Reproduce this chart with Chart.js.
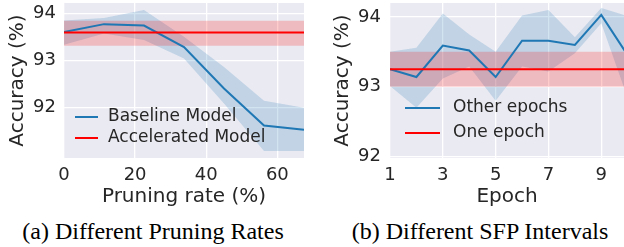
<!DOCTYPE html>
<html><head><meta charset="utf-8">
<script src="https://cdn.jsdelivr.net/npm/chart.js@4"></script>
<style>
html,body{margin:0;padding:0;background:#fff;}
#wrap{position:relative;width:624px;height:247px;overflow:hidden;background:#fff;}
.cv{position:absolute;top:0;}
.cap{position:absolute;font-family:'Liberation Serif','Times New Roman',serif;font-size:24px;line-height:28px;color:#000;white-space:nowrap;transform:translateX(-50%);top:217px;}
</style></head>
<body><div id="wrap">
<div class="cv" style="left:0;width:310px;height:215px;"><canvas id="c1"></canvas></div>
<div class="cv" style="left:310px;width:314px;height:215px;"><canvas id="c2"></canvas></div>
<div class="cap" style="left:153px;">(a) Different Pruning Rates</div>
<div class="cap" style="left:480px;">(b) Different SFP Intervals</div>
</div>
<script>
// ---- data: (a) pruning rates ----
const pruneRates = [0, 11.25, 22.5, 33.75, 45, 56.25, 67.5];
const baselineMean = [93.60, 93.77, 93.74, 93.28, 92.40, 91.61, 91.52];
const baselineUpper = [93.85, 93.90, 94.07, 93.50, 92.86, 92.14, 91.99];
const baselineLower = [93.33, 93.57, 93.43, 93.04, 92.08, 91.07, 91.07];
const accelMean = 93.59, accelUpper = 93.84, accelLower = 93.31;
const pruneTicks = [0, 20, 40, 60];
const accTicksA = [92, 93, 94];
// ---- data: (b) SFP intervals ----
const epochs = [1, 2, 3, 4, 5, 6, 7, 8, 9, 10];
const otherMean = [93.25, 93.14, 93.59, 93.52, 93.14, 93.66, 93.66, 93.60, 94.03, 93.45];
const otherUpper = [93.50, 93.56, 94.05, 93.75, 93.50, 94.02, 94.10, 93.71, 94.13, 94.01];
const otherLower = [93.01, 92.70, 93.12, 93.29, 92.80, 93.29, 93.22, 93.48, 93.91, 92.84];
const oneMean = 93.25, oneUpper = 93.50, oneLower = 93.00;
const epochTicks = [1, 3, 5, 7, 9];
const accTicksB = [92, 93, 94];

const BLUE = '#1f77b4', RED = '#ff0000';
const BLUE_BAND = 'rgba(31,119,180,0.2)', RED_BAND = 'rgba(255,0,0,0.2)';
const TXT = '#262626';
const FONT = "'DejaVu Sans', sans-serif";

function pts(xs, ys){ return xs.map((x,i)=>({x:x, y:ys[i]})); }
function flat(xs, v){ return [{x:xs[0], y:v},{x:xs[xs.length-1], y:v}]; }

const bgPlugin = {
  id:'bg',
  beforeDraw(chart){
    const {ctx, chartArea:a} = chart;
    ctx.save(); ctx.fillStyle='#EAEAF2';
    ctx.fillRect(a.left, a.top, a.right-a.left, a.bottom-a.top);
    ctx.restore();
  }
};
const legendPlugin = {
  id:'inlegend',
  afterDraw(chart, args, opts){
    const {ctx} = chart;
    const items = chart.data.datasets.filter(d=>d.legend);
    ctx.save();
    ctx.font = opts.fontSize + "px " + FONT;
    ctx.textBaseline='middle';
    items.forEach((d,i)=>{
      const y = opts.y + i*opts.gap;
      ctx.strokeStyle = d.borderColor; ctx.lineWidth = 2;
      ctx.beginPath(); ctx.moveTo(opts.x0, y); ctx.lineTo(opts.x1, y); ctx.stroke();
      ctx.fillStyle = TXT;
      ctx.fillText(d.label, opts.tx, y);
    });
    ctx.restore();
  }
};
function zeroPad(s){ s.paddingTop = 0; s.paddingBottom = 0; s.paddingLeft = 0; s.paddingRight = 0; }

function makeChart(id, cfg){
  const ds = [
    {label:'band1', data:pts(cfg.xs, cfg.upper), borderWidth:0, pointRadius:0, fill:1, backgroundColor:BLUE_BAND, order:6},
    {label:'band1low', data:pts(cfg.xs, cfg.lower), borderWidth:0, pointRadius:0, fill:false, order:5},
    {label:'band2', data:flat(cfg.xs, cfg.rUpper), borderWidth:0, pointRadius:0, fill:3, backgroundColor:RED_BAND, order:4},
    {label:'band2low', data:flat(cfg.xs, cfg.rLower), borderWidth:0, pointRadius:0, fill:false, order:3},
    {label:cfg.names[0], legend:true, data:pts(cfg.xs, cfg.mean), borderColor:BLUE, borderWidth:2, pointRadius:0, fill:false, order:2},
    {label:cfg.names[1], legend:true, data:flat(cfg.xs, cfg.rMean), borderColor:RED, borderWidth:2, pointRadius:0, fill:false, order:1},
  ];
  return new Chart(document.getElementById(id), {
    type:'line',
    data:{datasets:ds},
    plugins:[bgPlugin, legendPlugin],
    options:{
      responsive:true, maintainAspectRatio:false, animation:false,
      devicePixelRatio:1,
      layout:{padding:{top:3, right:cfg.padRight, left:0, bottom:0}},
      elements:{line:{tension:0}},
      plugins:{legend:{display:false}, tooltip:{enabled:false},
        filler:{propagate:false},
        inlegend:cfg.legend},
      scales:{
        x:{type:'linear', min:cfg.xmin, max:cfg.xmax,
          afterBuildTicks(s){ s.ticks = cfg.xticks.map(v=>({value:v})); },
          afterFit(s){ s.height = cfg.xh; zeroPad(s); },
          grid:{color:'#ffffff', lineWidth:1.3, drawTicks:false},
          border:{display:false},
          ticks:{padding:7, color:TXT, font:{family:FONT, size:18}, maxRotation:0, autoSkip:false,
            callback:v=>String(v)},
          title:{display:true, text:cfg.xtitle, color:TXT, font:{family:FONT, size:20}, padding:{top:0,bottom:cfg.xtpad}}
        },
        y:{type:'linear', min:cfg.ymin, max:cfg.ymax,
          afterBuildTicks(s){ s.ticks = cfg.yticks.map(v=>({value:v})); },
          afterFit(s){ s.width = cfg.yw; zeroPad(s); },
          grid:{color:'#ffffff', lineWidth:1.3, drawTicks:false},
          border:{display:false},
          ticks:{padding:cfg.ytpad, color:TXT, font:{family:FONT, size:18}, callback:v=>String(v)},
          title:{display:true, text:'Accuracy (%)', color:TXT, font:{family:FONT, size:20}, padding:{top:cfg.ytitlepad, bottom:0}}
        }
      }
    }
  });
}

makeChart('c1', {
  xs:pruneRates, mean:baselineMean, upper:baselineUpper, lower:baselineLower,
  rMean:accelMean, rUpper:accelUpper, rLower:accelLower,
  names:['Baseline Model','Accelerated Model'],
  xmin:0, xmax:67.5, ymin:90.92, ymax:94.22,
  xticks:pruneTicks, yticks:accTicksA, xtitle:'Pruning rate (%)',
  padRight:6, xh:57, yw:64, xtpad:6, ytpad:8, ytitlepad:6,
  legend:{x0:75, x1:98, tx:108, y:117, gap:21, fontSize:17}
});
makeChart('c2', {
  xs:epochs, mean:otherMean, upper:otherUpper, lower:otherLower,
  rMean:oneMean, rUpper:oneUpper, rLower:oneLower,
  names:['Other epochs','One epoch'],
  xmin:1, xmax:9.86, ymin:91.98, ymax:94.2,
  xticks:epochTicks, yticks:accTicksB, xtitle:'Epoch',
  padRight:0, xh:57, yw:80, xtpad:6, ytpad:9, ytitlepad:21,
  legend:{x0:95, x1:130, tx:143, y:108, gap:25, fontSize:17}
});
</script>
</body></html>
